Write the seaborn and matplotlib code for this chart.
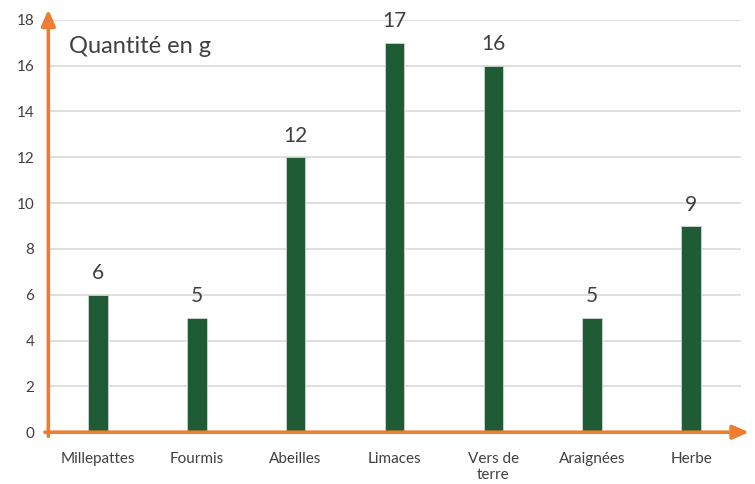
import pandas as pd
import matplotlib
matplotlib.use('Agg')
import matplotlib.pyplot as plt
import seaborn as sns

# données
categories = ['Millepattes', 'Fourmis', 'Abeilles', 'Limaces', 'Vers de\nterre', 'Araignées', 'Herbe']
quantites = [6, 5, 12, 17, 16, 5, 9]
yticks = list(range(0, 19, 2))

df = pd.DataFrame({'cat': categories, 'q': quantites})

sns.set_theme(style='white')
plt.rcParams['font.family'] = ['Lato', 'DejaVu Sans']

fig = plt.figure(figsize=(7.55, 4.84), dpi=100)
ax = fig.add_axes([0.064, 0.107, 0.917, 0.852])

sns.barplot(data=df, x='cat', y='q', color='#1f5c35', width=0.2, saturation=1,
            edgecolor='#cfd8cf', linewidth=0.6, ax=ax, zorder=3)

ax.set_xlim(-0.5, 6.5)
ax.set_ylim(0, 18)
ax.set_yticks(yticks)
ax.set_yticklabels([str(t) for t in yticks], fontsize=11, color='#404040')
ax.tick_params(axis='x', labelsize=11, labelcolor='#404040', pad=14, length=0)
ax.tick_params(axis='y', length=0, pad=10)
ax.set_xlabel('')
ax.set_ylabel('')
ax.yaxis.grid(True, color='#d9d9d9', linewidth=1.2, zorder=0)
ax.set_axisbelow(True)
for s in ax.spines.values():
    s.set_visible(False)

# étiquettes de valeur
for i, v in enumerate(quantites):
    ax.text(i, v + 0.5, str(v), ha='center', va='bottom', fontsize=15, color='#404040')

ax.text(0.03, 0.935, 'Quantité en g', transform=ax.transAxes, fontsize=17,
        color='#404040', ha='left', va='center')

# axes orange avec flèches
orange = '#ed7d31'
ax.annotate('', xy=(0, 1.025), xytext=(0, -0.01), xycoords='axes fraction',
            arrowprops=dict(arrowstyle='-|>,head_width=0.35,head_length=0.8',
                            color=orange, lw=2.6, shrinkA=0, shrinkB=0), annotation_clip=False)
ax.annotate('', xy=(1.012, 0), xytext=(-0.005, 0), xycoords='axes fraction',
            arrowprops=dict(arrowstyle='-|>,head_width=0.35,head_length=0.8',
                            color=orange, lw=2.6, shrinkA=0, shrinkB=0), annotation_clip=False)

fig.savefig('out.png', dpi=100)
